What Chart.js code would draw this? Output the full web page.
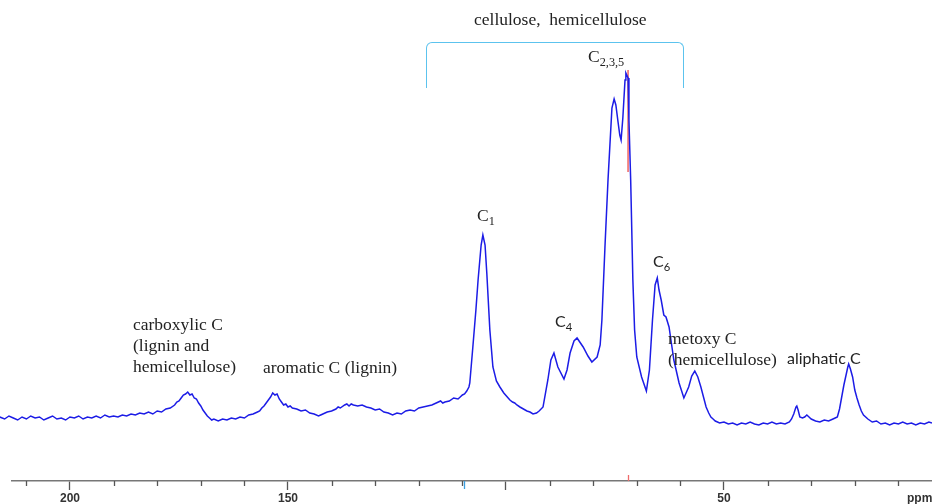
<!DOCTYPE html>
<html><head><meta charset="utf-8">
<script src="https://cdn.jsdelivr.net/npm/chart.js@4/dist/chart.umd.min.js"></script>
<style>
html,body{margin:0;padding:0;background:#fff;}
#wrap{position:relative;width:932px;height:504px;overflow:hidden;}
canvas{position:absolute;left:0;top:0;}
.t{position:absolute;white-space:nowrap;color:#222;}
.serif{font-family:"Liberation Serif","Times New Roman",serif;font-size:17.5px;line-height:21px;}
.sans{font-family:Lato,"Liberation Sans",sans-serif;font-size:16px;line-height:20px;}
.sub{font-size:70%;position:relative;top:0.32em;}
#bracket{position:absolute;left:426px;top:42px;width:258px;height:46px;border:1.5px solid #5cc3ee;border-bottom:none;border-radius:6px 6px 0 0;box-sizing:border-box;}
#ppm{position:absolute;left:907px;top:490px;font-family:"Liberation Sans",Arial,sans-serif;font-weight:bold;font-size:12px;line-height:16px;color:#333;}
</style></head>
<body>
<div id="wrap">
<canvas id="c" width="932" height="504"></canvas>
<div id="bracket"></div>
<div class="t serif" style="left:474px;top:9px;">cellulose,&nbsp; hemicellulose</div>
<div class="t serif" style="left:588px;top:46px;">C<span class="sub">2,3,5</span></div>
<div class="t serif" style="left:477px;top:205px;">C<span class="sub">1</span></div>
<div class="t sans" style="left:555px;top:311px;">C<span class="sub">4</span></div>
<div class="t sans" style="left:653px;top:251px;">C<span class="sub">6</span></div>
<div class="t serif" style="left:133px;top:314px;">carboxylic C<br>(lignin and<br>hemicellulose)</div>
<div class="t serif" style="left:263px;top:357px;">aromatic C (lignin)</div>
<div class="t serif" style="left:668px;top:328px;">metoxy C<br>(hemicellulose)</div>
<div class="t sans" style="left:787px;top:348px;">aliphatic C</div>
<div id="ppm">ppm</div>
</div>
<script>
// chemical shift (ppm) and intensity (arbitrary units)
const ppm = [216.1,215,214,213,212,211,210,209,208,207,206,205,204,203,202,201,200,199,198,197,196,195,194,193,192,191,190,189,188,187,186,185,184,183,182,181,180,179,178,177,176,175.5,175,174.5,174,173.5,173,172.5,172,171.5,171,170.5,170,169.5,169,168.5,168,167.5,167,166,165,164,163,162,161,160,159,158,157,156.5,156,155.5,155,154.5,154,153.5,153,152.5,152,151.5,151,150.5,150,149.5,149,148,147,146,145,144,143,142.5,142,141,140,139,138.5,138,137,136.5,136,135.5,135,134,133,132,131,130,129,128,127,126,125,124,123,122,121,120,119,118,117,116,115,114.5,114,113,112,111,110.5,110,109.5,109,108.5,108.3,107.6,106.9,106.4,105.7,105.3,104.8,104.4,103.7,103.0,102.2,101.4,100.5,99.5,99.1,98.5,98,97.5,96.8,96,95.2,94.5,93.8,93,92.4,91.5,90.4,89.7,89.0,88.1,86.7,86.0,85.3,84.4,83.7,82.3,81.2,80.3,79.1,78.4,78.0,77.3,76.6,76.1,75.7,75.2,74.8,74.3,73.9,73.6,73.2,72.7,72.5,72.0,71.8,71.4,70.9,70.5,70.0,68.9,67.8,67.1,66.4,65.8,65.3,64.9,64.4,63.8,63.3,62.6,61.9,61.5,60.3,59.2,58.1,57.4,56.7,56.0,55.3,54.7,54.1,53.5,53,52.5,52,51,50,49,48,47,46,45,44,43,42,41,40,39,38,37,36,35,34.5,34,33.5,33.3,33,32.6,32,31.5,31,30.5,30,29,28,27,26,25,24.5,24,23.5,23,22.5,22,21.6,21.4,21,20.5,20,19.5,19,18.5,18,17,16,15,14,13,12,11,10,9,8,7,6,5,4,3,2.3];
const intensity = [64,62,65,63,61,64,62,65,63,64,61,63,65,62,63,61,64,63,65,62,64,63,65,63,66,64,65,64,66,65,67,66,68,67,69,67,70,69,72,73,76,79,80,83,86,87,89,86,87,83,82,78,75,71,68,65,63,61,62,60,62,61,63,62,64,63,66,67,69,70,73,75,78,81,84,88,86,87,82,79,76,77,74,75,73,72,70,71,68,67,65,66,67,69,70,72,74,73,76,77,75,77,76,75,76,74,73,71,72,69,68,66,68,67,70,71,70,73,74,75,76,78,80,78,79,80,83,82,84,86,87,90,94,98,134,171,201,236,246,236,208,151,114,100,94,88,83,81,79,78,76,74,72,70,69,67,68,70,74,101,121,128,114,102,111,128,140,143,134,125,119,124,136,161,234,301,341,373,382,376,359,346,341,363,401,408,403,361,301,201,151,124,104,90,111,161,196,203,191,181,166,164,154,133,121,98,83,94,105,110,104,94,84,74,68,64,62,60,58,59,57,58,56,58,57,59,57,56,58,57,59,57,58,57,59,62,67,74,75,71,64,63,64,66,64,62,60,59,61,60,62,63,64,72,84,96,106,114,117,112,104,91,83,76,70,66,62,59,60,57,58,56,58,57,59,57,58,56,58,57,59,58];
// reference marker line
const markerPpm = 72.0;
const markerRange = [411, 309];
// axis ticks
const tickValues = [210,200,190,180,170,160,150,140,130,120,110,100,90,80,70,60,50,40,30,20,10];
const majorTicks = [200,150,100,50];
const labeledTicks = [200,150,50];
const blueTickPpm = 109.6;

const tickPlugin = {
  id:'ticks2',
  afterDraw(chart){
    const s = chart.scales.x, c = chart.ctx, yb = chart.chartArea.bottom;
    c.save();
    c.lineWidth = 1.3; c.strokeStyle = '#555';
    tickValues.forEach(v=>{
      if(majorTicks.includes(v)) return;
      const x = Math.round(s.getPixelForValue(v))+0.5;
      c.beginPath(); c.moveTo(x,yb); c.lineTo(x,yb+5); c.stroke();
    });
    let x = Math.round(s.getPixelForValue(blueTickPpm))+0.5;
    c.strokeStyle = '#3b9fe0';
    c.beginPath(); c.moveTo(x,yb); c.lineTo(x,yb+8); c.stroke();
    x = Math.round(s.getPixelForValue(markerPpm))+0.5;
    c.strokeStyle = '#f06a6a';
    c.beginPath(); c.moveTo(x,yb-6); c.lineTo(x,yb); c.stroke();
    c.restore();
  }
};

new Chart(document.getElementById('c'), {
  type:'line',
  data:{datasets:[
    {data:ppm.map((p,i)=>({x:p,y:intensity[i]})), borderColor:'rgb(28,28,230)', borderWidth:1.5, pointRadius:0, tension:0, clip:false},
    {data:markerRange.map(v=>({x:markerPpm,y:v})), borderColor:'rgba(235,60,60,0.75)', borderWidth:1.6, pointRadius:0, clip:false}
  ]},
  options:{
    responsive:false, animation:false,
    layout:{padding:{left:12,right:0,top:0,bottom:0}},
    plugins:{legend:{display:false},tooltip:{enabled:false}},
    scales:{
      x:{type:'linear',reverse:true,min:2.29,max:213.3,
        afterBuildTicks:(s)=>{s.ticks=tickValues.map(v=>({value:v}));},
        afterFit:(s)=>{s.height=23;},
        grid:{drawOnChartArea:false,drawTicks:true,tickLength:9,tickWidth:1.3,
          tickColor:(ctx)=>(ctx.tick && majorTicks.includes(ctx.tick.value))?'#555':'rgba(0,0,0,0)'},
        border:{display:true,color:'#777',width:1.5},
        ticks:{autoSkip:false,maxRotation:0,minRotation:0,padding:1,color:'#333',
          font:{family:'Liberation Sans',size:12,weight:'bold'},
          callback:(v)=>labeledTicks.includes(v)?String(v):''}
      },
      y:{display:false,min:0,max:481}
    }
  },
  plugins:[tickPlugin]
});
</script>
</body></html>
